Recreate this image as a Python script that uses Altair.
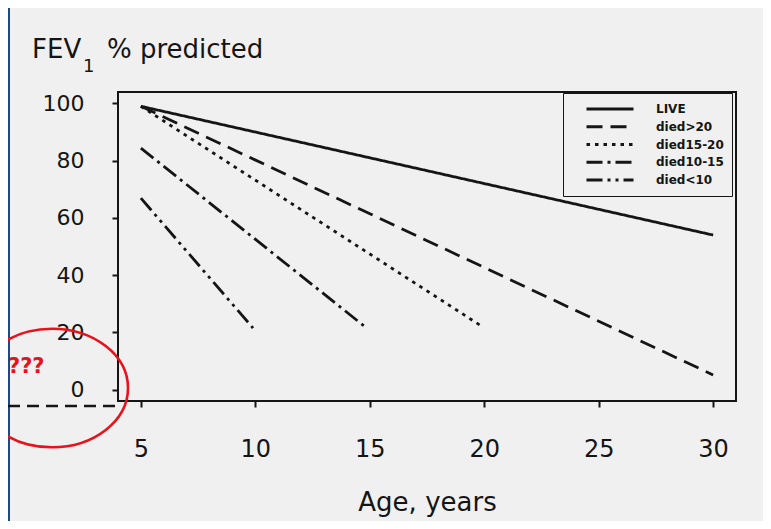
import altair as alt
import pandas as pd

# ---- data ----
series = ["LIVE", "died>20", "died15-20", "died10-15", "died<10"]
age_start = [5, 5, 5, 5, 5]
age_end = [30, 30, 19.8, 14.8, 9.9]
fev_start = [99, 99, 99, 84.4, 66.9]
fev_end = [54, 5.1, 22.6, 21.9, 21.5]
dashes = [[1, 0], [16, 8], [3.5, 5], [16, 5, 3, 5], [16, 5, 3, 5, 3, 5]]
x_ticks = [5, 10, 15, 20, 25, 30]
y_ticks = [0, 20, 40, 60, 80, 100]
x_title = "Age, years"
y_title_parts = ["FEV", "1", "% predicted"]
note_text = "???"

rows = []
for s, a0, a1, f0, f1 in zip(series, age_start, age_end, fev_start, fev_end):
    rows.append({"series": s, "age": a0, "fev": f0})
    rows.append({"series": s, "age": a1, "fev": f1})
df = pd.DataFrame(rows)
one = pd.DataFrame({"k": [0]})

FONT = "DejaVu Sans"
INK = "#151515"
RED = "#E8121B"
BLUE = "#1F4A7F"
BG = "#F0F0F0"

legend = alt.Legend(
    title=None, orient="none", legendX=445, legendY=1,
    symbolType="stroke", symbolSize=2209, symbolStrokeWidth=2.8,
    symbolStrokeColor=INK, clipHeight=16, rowPadding=1.75, padding=8,
    symbolOffset=14, labelOffset=21, labelFont=FONT, labelFontSize=12,
    labelFontWeight="bold", labelColor=INK, strokeColor=INK, fillColor=BG,
)

lines = alt.Chart(df).mark_line(color=INK, strokeWidth=2.8).encode(
    x=alt.X("age:Q", scale=alt.Scale(domain=[4, 31], nice=False, zero=False),
            axis=alt.Axis(values=x_ticks, title=x_title, domain=False, grid=False,
                          tickSize=6, tickWidth=2, tickColor=INK,
                          labelFont=FONT, labelFontSize=24, labelColor=INK,
                          labelPadding=30, titleFont=FONT, titleFontSize=26,
                          titleFontWeight="normal", titleColor=INK, titlePadding=28)),
    y=alt.Y("fev:Q", scale=alt.Scale(domain=[-4, 104], nice=False, zero=False),
            axis=alt.Axis(values=y_ticks, title=None, domain=False, grid=False,
                          tickSize=6, tickWidth=2, tickColor=INK,
                          labelFont=FONT, labelFontSize=22, labelColor=INK,
                          labelPadding=28)),
    strokeDash=alt.StrokeDash("series:N", scale=alt.Scale(domain=series, range=dashes),
                              legend=legend),
    detail="series:N",
)

def txt(s, x, y, size, color=INK, weight="normal"):
    return alt.Chart(one).mark_text(
        text=s, font=FONT, fontSize=size, color=color, fontWeight=weight,
        align="left", baseline="alphabetic",
    ).encode(x=alt.value(x), y=alt.value(y))

title_fev = txt(y_title_parts[0], -86, -34, 26)
title_sub = txt(y_title_parts[1], -35, -20, 18)
title_rest = txt(y_title_parts[2], -11, -34, 26)

blue_strip = alt.Chart(one).mark_rect(color=BLUE).encode(
    x=alt.value(-110), x2=alt.value(-108), y=alt.value(-84), y2=alt.value(429))

ellipse = alt.Chart(one).mark_point(
    shape="M-1,0A1,0.78 0 1 0 1,0A1,0.78 0 1 0 -1,0Z", size=23104,
    filled=False, stroke=RED, strokeWidth=2.6, opacity=1,
).encode(x=alt.value(-66), y=alt.value(296))

dash_rule = alt.Chart(one).mark_rule(color=INK, strokeWidth=2.6, strokeDash=[12, 7]).encode(
    x=alt.value(-110), x2=alt.value(-1), y=alt.value(314))

note = txt(note_text, -110, 281, 21, color=RED, weight="bold")

chart = alt.layer(
    blue_strip, lines, dash_rule, ellipse, note, title_fev, title_sub, title_rest
).properties(
    width=618, height=309, background=BG,
    autosize=alt.AutoSizeParams(type="none"),
    padding={"left": 110, "top": 84, "right": 27, "bottom": 120},
).configure_view(stroke=INK, strokeWidth=2)

chart.save("out.html", embed_options={"renderer": "svg", "actions": False})
